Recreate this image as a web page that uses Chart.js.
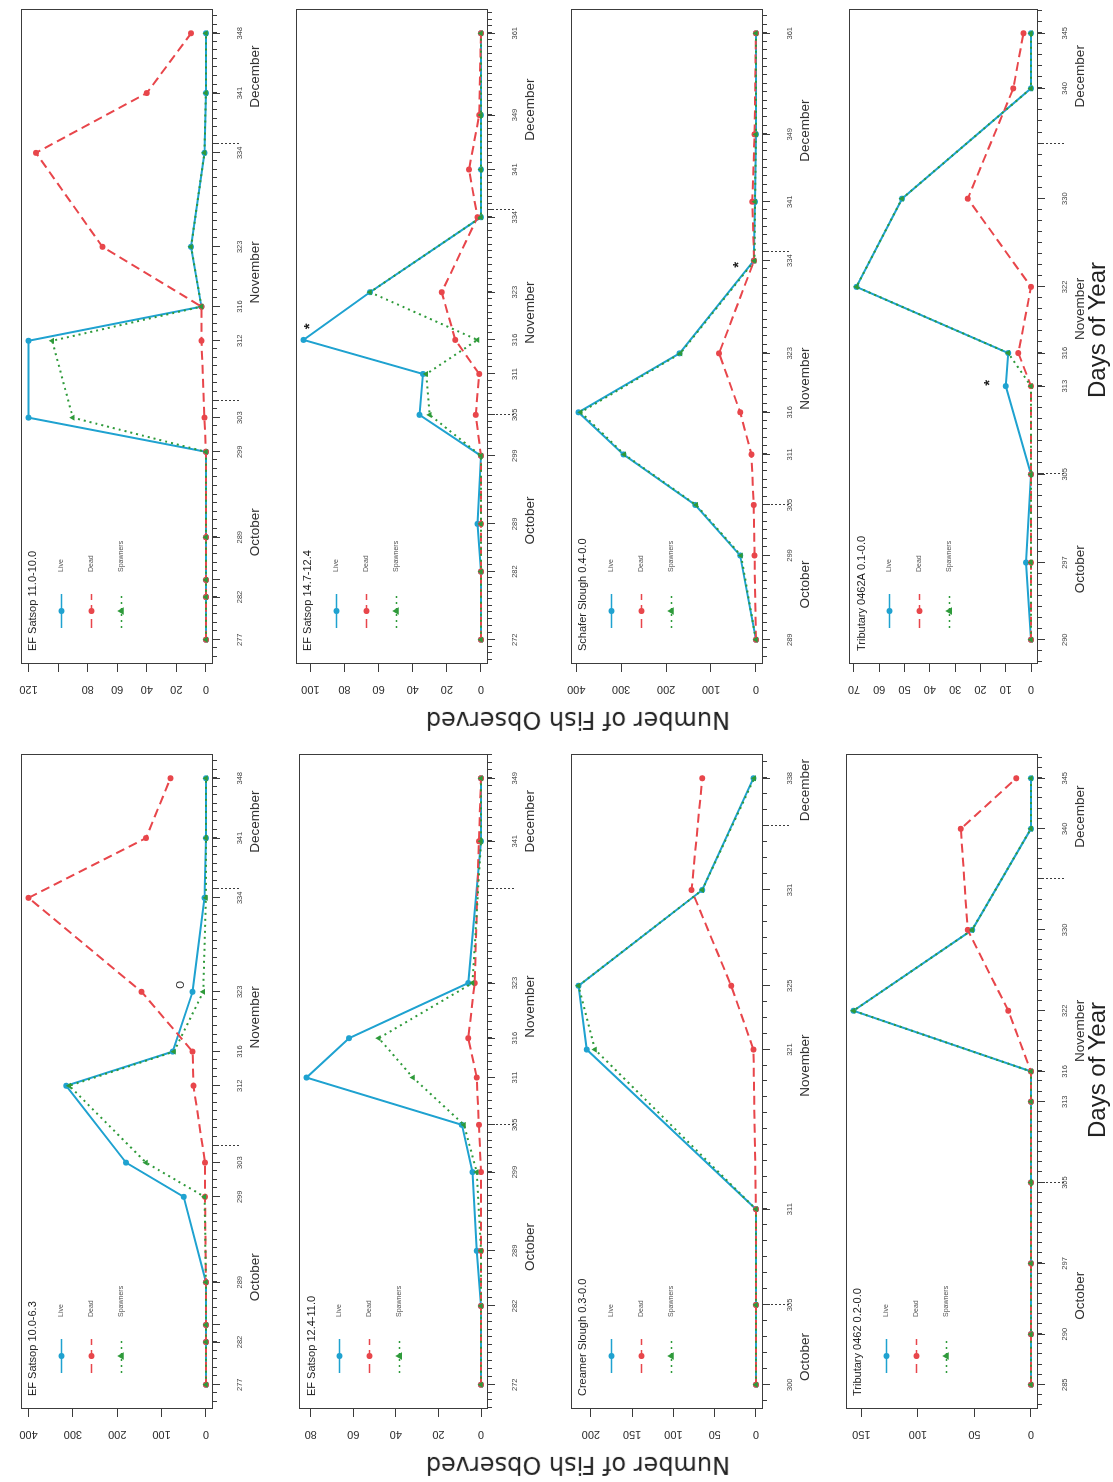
<!DOCTYPE html>
<html>
<head>
<meta charset="utf-8">
<script src="https://cdn.jsdelivr.net/npm/chart.js@4.4.1/dist/chart.umd.min.js"></script>
<style>
html,body{margin:0;padding:0;background:#fff;}
body{width:1113px;height:1482px;overflow:hidden;position:relative;}
#fig{position:absolute;left:0;top:0;width:1482px;height:1113px;transform-origin:0 0;transform:translate(0,1482px) rotate(-90deg);background:#fff;}
.panel{position:absolute;}
.ylab{position:absolute;font:24px "DejaVu Sans",sans-serif;color:#222;white-space:nowrap;transform:translate(-50%,-50%) rotate(-90deg);}
.xlab{position:absolute;font:24px "Liberation Sans",Arial,sans-serif;color:#222;white-space:nowrap;transform:translate(-50%,-50%);}
</style>
</head>
<body>
<div id="fig"></div>
<script>
// ---------------- DATA ----------------
const SERIES_NAMES = ['Live', 'Dead', 'Spawners'];
const MONTH_NAMES = ['October', 'November', 'December'];
const MONTH_START = [274, 305, 335, 366];   // day of year of 1 Oct, 1 Nov, 1 Dec, 1 Jan

// EF Satsop 10.0-6.3
const E_TITLE = 'EF Satsop 10.0-6.3';
const E_DAYS  = [277, 282, 284, 289, 299, 303, 312, 316, 323, 334, 341, 348];
const E_LIVE  = [0, 0, 0, 0, 50, 180, 315, 75, 30, 3, 0, 0];
const E_DEAD  = [0, 0, 0, 0, 2, 2, 28, 30, 145, 400, 135, 80];
const E_SPAWN = [0, 0, 0, 0, 3, 135, 308, 72, 6, 0, 0, 0];
const E_YTICKS = [0, 100, 200, 300, 400];
const E_YLABELS = ['0', '100', '200', '300', '400'];
const E_NOTES = [{text: 'O', day: 323.8, value: 56}];

// EF Satsop 12.4-11.0
const F_TITLE = 'EF Satsop 12.4-11.0';
const F_DAYS  = [272, 282, 289, 299, 305, 311, 316, 323, 341, 349];
const F_LIVE  = [0, 0, 2, 4, 9, 82, 62, 6, 0, 0];
const F_DEAD  = [0, 0, 0, 0, 1, 2, 6, 3, 1, 0];
const F_SPAWN = [0, 0, 0, 2, 8, 32, 48, 4, 0, 0];
const F_YTICKS = [0, 20, 40, 60, 80];
const F_YLABELS = ['0', '20', '40', '60', '80'];
const F_NOTES = [];

// Creamer Slough 0.3-0.0
const G_TITLE = 'Creamer Slough 0.3-0.0';
const G_DAYS  = [300, 305, 311, 321, 325, 331, 338];
const G_LIVE  = [0, 0, 0, 205, 215, 65, 3];
const G_DEAD  = [0, 0, 0, 3, 30, 78, 65];
const G_SPAWN = [0, 0, 0, 195, 215, 65, 2];
const G_YTICKS = [0, 50, 100, 150, 200];
const G_YLABELS = ['0', '50', '100', '150', '200'];
const G_NOTES = [];

// Tributary 0462 0.2-0.0
const H_TITLE = 'Tributary 0462 0.2-0.0';
const H_DAYS  = [285, 290, 297, 305, 313, 316, 322, 330, 340, 345];
const H_LIVE  = [0, 0, 0, 0, 0, 0, 157, 52, 0, 0];
const H_DEAD  = [0, 0, 0, 0, 0, 0, 20, 56, 62, 13];
const H_SPAWN = [0, 0, 0, 0, 0, 0, 157, 52, 0, 0];
const H_YTICKS = [0, 50, 100, 150];
const H_YLABELS = ['0', '50', '100', '150'];
const H_NOTES = [];

// EF Satsop 11.0-10.0
const A_TITLE = 'EF Satsop 11.0-10.0';
const A_DAYS  = [277, 282, 284, 289, 299, 303, 312, 316, 323, 334, 341, 348];
const A_LIVE  = [0, 0, 0, 0, 0, 120, 120, 3, 10, 1, 0, 0];
const A_DEAD  = [0, 0, 0, 0, 0, 1, 3, 3, 70, 115, 40, 10];
const A_SPAWN = [0, 0, 0, 0, 0, 90, 104, 3, 10, 1, 0, 0];
const A_YTICKS = [0, 20, 40, 60, 80, 100, 120];
const A_YLABELS = ['0', '20', '40', '60', '80', '', '120'];
const A_NOTES = [];

// EF Satsop 14.7-12.4
const B_TITLE = 'EF Satsop 14.7-12.4';
const B_DAYS  = [272, 282, 289, 299, 305, 311, 316, 323, 334, 341, 349, 361];
const B_LIVE  = [0, 0, 2, 0, 36, 34, 104, 65, 0, 0, 0, 0];
const B_DEAD  = [0, 0, 0, 0, 3, 1, 15, 23, 2, 7, 1, 0];
const B_SPAWN = [0, 0, 0, 0, 30, 32, 2, 65, 0, 0, 0, 0];
const B_YTICKS = [0, 20, 40, 60, 80, 100];
const B_YLABELS = ['0', '20', '40', '60', '80', '100'];
const B_NOTES = [{text: '*', day: 318, value: 102}];

// Schafer Slough 0.4-0.0
const C_TITLE = 'Schafer Slough 0.4-0.0';
const C_DAYS  = [289, 299, 305, 311, 316, 323, 334, 341, 349, 361];
const C_LIVE  = [0, 35, 135, 295, 395, 170, 5, 2, 0, 0];
const C_DEAD  = [0, 3, 5, 10, 35, 82, 4, 8, 3, 0];
const C_SPAWN = [0, 33, 133, 293, 390, 168, 3, 2, 0, 0];
const C_YTICKS = [0, 100, 200, 300, 400];
const C_YLABELS = ['0', '100', '200', '300', '400'];
const C_NOTES = [{text: '*', day: 333.5, value: 45}];

// Tributary 0462A 0.1-0.0
const D_TITLE = 'Tributary 0462A 0.1-0.0';
const D_DAYS  = [290, 297, 305, 313, 316, 322, 330, 340, 345];
const D_LIVE  = [0, 2, 0, 10, 9, 69, 51, 0, 0];
const D_DEAD  = [0, 0, 0, 0, 5, 0, 25, 7, 3];
const D_SPAWN = [0, 0, 0, 0, 9, 69, 51, 0, 0];
const D_YTICKS = [0, 10, 20, 30, 40, 50, 60, 70];
const D_YLABELS = ['0', '10', '20', '30', '40', '50', '60', '70'];
const D_NOTES = [{text: '*', day: 313.3, value: 17.5}];

// ---------------- LAYOUT / STYLE ----------------
const FONT = '"Liberation Sans", Arial, Helvetica, sans-serif';
const COLOR_LIVE = '#1fa2d0', COLOR_DEAD = '#e8464b', COLOR_SPAWN = '#2e9a3a', COLOR_AXIS = '#3c3c3c';
const BOX_W = 655, BOX_H = 200, AX_L = 60, AX_B = 56, PAD_T = 6, PAD_R = 6;
const COL_LEFT = [73, 818];
const ROW_TOP = [13, 288, 563, 838];

const PANELS = [
  {id: 'pE', col: 0, row: 0, title: E_TITLE, days: E_DAYS, s: [E_LIVE, E_DEAD, E_SPAWN], yt: E_YTICKS, yl: E_YLABELS, notes: E_NOTES},
  {id: 'pF', col: 0, row: 1, title: F_TITLE, days: F_DAYS, s: [F_LIVE, F_DEAD, F_SPAWN], yt: F_YTICKS, yl: F_YLABELS, notes: F_NOTES},
  {id: 'pG', col: 0, row: 2, title: G_TITLE, days: G_DAYS, s: [G_LIVE, G_DEAD, G_SPAWN], yt: G_YTICKS, yl: G_YLABELS, notes: G_NOTES},
  {id: 'pH', col: 0, row: 3, title: H_TITLE, days: H_DAYS, s: [H_LIVE, H_DEAD, H_SPAWN], yt: H_YTICKS, yl: H_YLABELS, notes: H_NOTES},
  {id: 'pA', col: 1, row: 0, title: A_TITLE, days: A_DAYS, s: [A_LIVE, A_DEAD, A_SPAWN], yt: A_YTICKS, yl: A_YLABELS, notes: A_NOTES},
  {id: 'pB', col: 1, row: 1, title: B_TITLE, days: B_DAYS, s: [B_LIVE, B_DEAD, B_SPAWN], yt: B_YTICKS, yl: B_YLABELS, notes: B_NOTES},
  {id: 'pC', col: 1, row: 2, title: C_TITLE, days: C_DAYS, s: [C_LIVE, C_DEAD, C_SPAWN], yt: C_YTICKS, yl: C_YLABELS, notes: C_NOTES},
  {id: 'pD', col: 1, row: 3, title: D_TITLE, days: D_DAYS, s: [D_LIVE, D_DEAD, D_SPAWN], yt: D_YTICKS, yl: D_YLABELS, notes: D_NOTES}
];
const PANEL_BY_ID = {};
PANELS.forEach(p => PANEL_BY_ID[p.id] = p);

const STYLES = [
  {color: COLOR_LIVE, dash: [], point: 'circle', r: 3, order: 3},
  {color: COLOR_DEAD, dash: [9, 5], point: 'circle', r: 3, order: 2},
  {color: COLOR_SPAWN, dash: [2, 4], point: 'triangle', r: 3.5, order: 1}
];

const mctx = document.createElement('canvas').getContext('2d');
function widest(font, arr) { mctx.font = font; return Math.max(...arr.map(t => mctx.measureText(t).width)); }

function drawMarker(ctx, style, r, x, y, color) {
  ctx.fillStyle = color;
  ctx.beginPath();
  if (style === 'triangle') {
    ctx.moveTo(x, y - r * 1.2); ctx.lineTo(x + r * 1.1, y + r * 0.7); ctx.lineTo(x - r * 1.1, y + r * 0.7); ctx.closePath();
  } else {
    ctx.arc(x, y, r, 0, Math.PI * 2);
  }
  ctx.fill();
}

const deco = {
  id: 'deco',
  afterDraw(chart) {
    const P = PANEL_BY_ID[chart.canvas.id];
    const ctx = chart.ctx, a = chart.chartArea, x = chart.scales.x, y = chart.scales.y;
    ctx.save();
    ctx.strokeStyle = COLOR_AXIS; ctx.lineWidth = 1;
    ctx.strokeRect(Math.round(a.left) + 0.5, Math.round(a.top) + 0.5, Math.round(a.right - a.left) - 1, Math.round(a.bottom - a.top) - 1);
    ctx.beginPath();
    for (let d = Math.ceil(x.min); d <= Math.floor(x.max); d++) {
      const px = Math.round(x.getPixelForValue(d)) + 0.5;
      ctx.moveTo(px, a.bottom); ctx.lineTo(px, a.bottom + 4);
    }
    ctx.stroke();
    ctx.setLineDash([2, 2]);
    ctx.beginPath();
    MONTH_START.slice(1, 3).forEach(b => {
      if (b > x.min && b < x.max) {
        const px = Math.round(x.getPixelForValue(b)) + 0.5;
        ctx.moveTo(px, a.bottom); ctx.lineTo(px, a.bottom + 26);
      }
    });
    ctx.stroke();
    ctx.setLineDash([]);
    ctx.fillStyle = '#333'; ctx.font = '13.5px ' + FONT; ctx.textAlign = 'center'; ctx.textBaseline = 'middle';
    MONTH_NAMES.forEach((m, i) => {
      const s = Math.max(MONTH_START[i], x.min), e = Math.min(MONTH_START[i + 1], x.max);
      if (e > s) ctx.fillText(m, x.getPixelForValue((s + e) / 2), a.bottom + 42);
    });
    ctx.textAlign = 'left'; ctx.font = '11px ' + FONT; ctx.fillStyle = '#222';
    ctx.fillText(P.title, a.left + 13, a.top + 12);
    chart.data.datasets.forEach((ds, i) => {
      const st = STYLES[i];
      const ly = a.top + 40 + 30 * i;
      ctx.strokeStyle = st.color; ctx.lineWidth = 1.5; ctx.setLineDash(st.dash);
      ctx.beginPath(); ctx.moveTo(a.left + 36, ly); ctx.lineTo(a.left + 70, ly); ctx.stroke();
      ctx.setLineDash([]);
      drawMarker(ctx, st.point, st.r, a.left + 53, ly, st.color);
      ctx.fillStyle = '#555'; ctx.font = '7px ' + FONT;
      ctx.fillText(ds.label, a.left + 92, ly);
    });
    ctx.fillStyle = '#222'; ctx.textAlign = 'center';
    P.notes.forEach(n => {
      ctx.font = (n.text === '*' ? 'bold 15px ' : '10px ') + FONT;
      ctx.fillText(n.text, x.getPixelForValue(n.day), y.getPixelForValue(n.value) + (n.text === '*' ? 3 : 0));
    });
    ctx.restore();
  }
};

Chart.defaults.font.family = FONT;
const fig = document.getElementById('fig');

PANELS.forEach(P => {
  const div = document.createElement('div');
  div.className = 'panel';
  const W = AX_L + BOX_W + PAD_R, H = PAD_T + BOX_H + AX_B;
  div.style.left = (COL_LEFT[P.col] - AX_L) + 'px';
  div.style.top = (ROW_TOP[P.row] - PAD_T) + 'px';
  div.style.width = W + 'px'; div.style.height = H + 'px';
  const cv = document.createElement('canvas');
  cv.id = P.id; cv.width = W; cv.height = H;
  div.appendChild(cv); fig.appendChild(div);

  const d0 = P.days[0], d1 = P.days[P.days.length - 1], span = d1 - d0;
  const M = Math.max(...P.s.map(arr => Math.max(...arr)));
  const shown = []; let last = -1e9;
  P.days.forEach((d, i) => { if (d - last >= 2.5) { shown[i] = true; last = d; } else shown[i] = false; });
  const yFont = '11px ' + FONT;
  const ypad = 25 - 8 - widest(yFont, P.yl) / 2;

  new Chart(cv, {
    type: 'line',
    data: {
      datasets: P.s.map((arr, k) => ({
        label: SERIES_NAMES[k],
        data: P.days.map((d, i) => ({x: d, y: arr[i]})),
        borderColor: STYLES[k].color,
        backgroundColor: STYLES[k].color,
        pointBackgroundColor: STYLES[k].color,
        pointBorderColor: STYLES[k].color,
        pointBorderWidth: 0,
        borderWidth: 2,
        borderDash: STYLES[k].dash,
        pointStyle: STYLES[k].point,
        pointRadius: STYLES[k].r,
        tension: 0,
        fill: false,
        order: STYLES[k].order
      }))
    },
    options: {
      responsive: false,
      animation: false,
      devicePixelRatio: 1,
      layout: {padding: {top: PAD_T, right: PAD_R, left: 0, bottom: 0}},
      plugins: {legend: {display: false}, tooltip: {enabled: false}, title: {display: false}},
      scales: {
        x: {
          type: 'linear', bounds: 'data',
          min: d0 - 0.04 * span, max: d1 + 0.04 * span,
          afterBuildTicks: s => { s.ticks = P.days.map(v => ({value: v})); },
          afterFit: s => { s.height = AX_B; },
          ticks: {autoSkip: false, maxRotation: 0, minRotation: 0, padding: 15, color: '#444',
                  font: {size: 7.5}, callback: (v, i) => shown[i] ? String(v) : ''},
          grid: {drawOnChartArea: false, drawTicks: true, tickLength: 7, tickColor: COLOR_AXIS, tickWidth: 1},
          border: {display: false}
        },
        y: {
          type: 'linear', bounds: 'data',
          min: -0.04 * M, max: 1.04 * M,
          afterBuildTicks: s => { s.ticks = P.yt.map(v => ({value: v})); },
          afterFit: s => { s.width = AX_L; },
          ticks: {minRotation: 90, maxRotation: 90, crossAlign: 'center', padding: ypad, color: '#333',
                  font: {size: 11}, callback: (v, i) => P.yl[i]},
          grid: {drawOnChartArea: false, drawTicks: true, tickLength: 8, tickColor: COLOR_AXIS, tickWidth: 1},
          border: {display: false}
        }
      }
    },
    plugins: [deco]
  });
});

function addLabel(cls, text, x, y) {
  const el = document.createElement('div');
  el.className = cls; el.textContent = text;
  el.style.left = x + 'px'; el.style.top = y + 'px';
  fig.appendChild(el);
}
addLabel('ylab', 'Number of Fish Observed', 17, 578);
addLabel('ylab', 'Number of Fish Observed', 762, 578);
addLabel('xlab', 'Days of Year', 412, 1097);
addLabel('xlab', 'Days of Year', 1152, 1097);
</script>
</body>
</html>
